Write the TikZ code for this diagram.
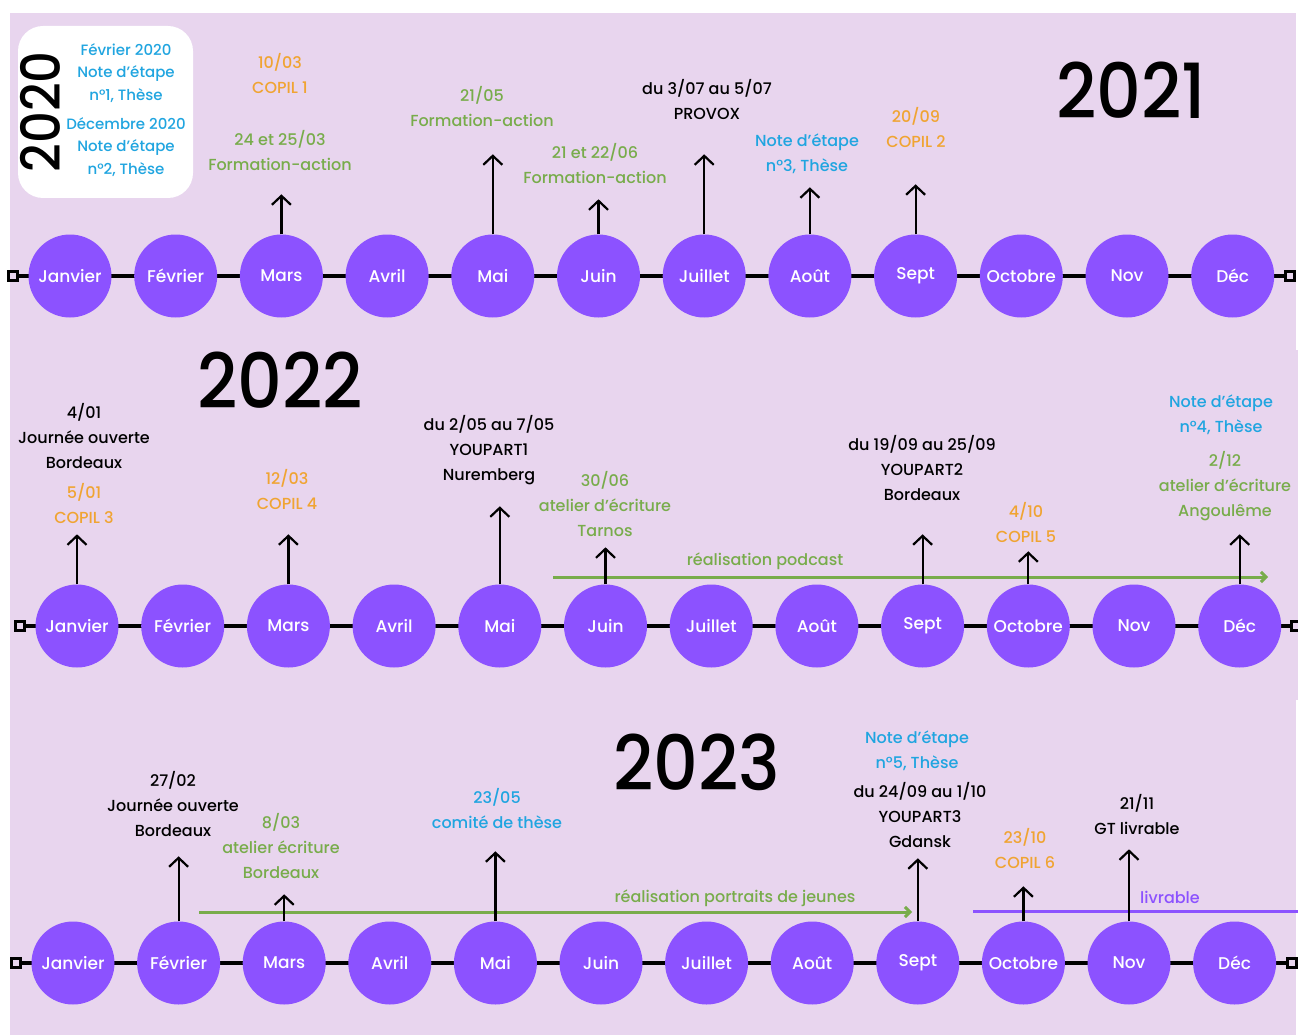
\documentclass[tikz,border=0pt]{standalone}
\usepackage{fontspec}
\setmainfont{Poppins Medium}
\usetikzlibrary{arrows.meta}
\definecolor{lav}{RGB}{232,213,238}
\definecolor{cmois}{RGB}{140,82,255}
\definecolor{cbleu}{RGB}{32,165,224}
\definecolor{corange}{RGB}{240,164,50}
\definecolor{cvert}{RGB}{120,172,75}
\tikzset{
	month/.style={circle, fill=cmois, minimum size=83pt, inner sep=0pt, text=white, font=\fontsize{17}{20}\selectfont},
	endsq/.style={draw, fill=lav, line width=2.2pt, minimum size=9pt, inner sep=0pt},
	tl/.style={line width=3.2pt},
	evt/.style={line width=2.2pt, -{Straight Barb[length=9pt,width=19pt,line width=2.2pt]}},
	span/.style={line width=3pt},
	txt/.style={align=center, font=\fontsize{16}{25}\selectfont},
	year/.style={font=\fontsize{76}{76}\selectfont}
}
\begin{document}
\begin{tikzpicture}[x=1pt, y=-1pt]
\useasboundingbox (0,0) rectangle (1298,1035);
\fill[lav] (10,13) rectangle (1296,1035);
\fill[lav] (10,350) rectangle (1298,700);

% 2020 - 2021
\node[fill=white, rounded corners=25pt, minimum width=175pt, minimum height=172pt] (box) at (105.5,112) {};
\node[rotate=90, font=\fontsize{54}{54}\selectfont] (y20) at (40,112) {\scalebox{.92}[1]{2020}};
\node[align=center, text=cbleu, font=\fontsize{15}{22.5}\selectfont] (n1) at (126,73) {Février 2020\\Note d’étape\\n°1, Thèse};
\node[align=center, text=cbleu, font=\fontsize{15}{22.5}\selectfont] (n2) at (126,147) {Décembre 2020\\Note d’étape\\n°2, Thèse};
\node[year] (y21) at (1131,90) {\scalebox{.92}[1]{2021}};
\node[endsq] (s1) at (13,276) {};
\node[endsq] (e1) at (1290,276) {};
\draw[tl] (s1) -- (e1);
\foreach \m [count=\i] in {Janvier,Février,Mars,Avril,Mai,Juin,Juillet,Août,Sept,Octobre,Nov,Déc}
	\node[month] (a\i) at ({70+105.7*(\i-1)},276) {\m};
\node[txt, text=corange] (t13a) at (280,74) {10/03\\COPIL 1};
\node[txt, text=cvert] (t13b) at (280,151) {24 et 25/03\\Formation-action};
\node[txt, text=cvert] (t15) at (482,107) {21/05\\Formation-action};
\node[txt, text=cvert] (t16) at (595,164) {21 et 22/06\\Formation-action};
\node[txt] (t17) at (707,100) {du 3/07 au 5/07\\PROVOX};
\node[txt, text=cbleu] (t18) at (807,154) {Note d’étape\\n°3, Thèse};
\node[txt, text=corange] (t19) at (916,128) {20/09\\COPIL 2};
\draw[evt] (a3.north) -- ++(0,-40);
\draw[evt] (a5.north) -- ++(0,-80);
\draw[evt] (a6.north) -- ++(0,-35);
\draw[evt] (a7.north) -- ++(0,-80);
\draw[evt] (a8.north) -- ++(0,-47);
\draw[evt] (a9.north) -- ++(0,-50);

% 2022
\node[year] (y22) at (280,380) {\scalebox{.92}[1]{2022}};
\node[endsq] (s2) at (20,626) {};
\node[endsq] (e2) at (1296,626) {};
\draw[tl] (s2) -- (e2);
\foreach \m [count=\i] in {Janvier,Février,Mars,Avril,Mai,Juin,Juillet,Août,Sept,Octobre,Nov,Déc}
	\node[month] (b\i) at ({77+105.7*(\i-1)},626) {\m};
\node[txt] (t21a) at (84,436) {4/01\\Journée ouverte\\Bordeaux};
\node[txt, text=corange] (t21b) at (84,504) {5/01\\COPIL 3};
\node[txt, text=corange] (t23) at (287,490) {12/03\\COPIL 4};
\node[txt] (t25) at (489,450) {du 2/05 au 7/05\\YOUPART1\\Nuremberg};
\node[txt, text=cvert] (t26) at (605,504) {30/06\\atelier d’écriture\\Tarnos};
\node[txt] (t29) at (922,468) {du 19/09 au 25/09\\YOUPART2\\Bordeaux};
\node[txt, text=corange] (t210) at (1026,523) {4/10\\COPIL 5};
\node[txt, text=cbleu] (t212a) at (1221,415) {Note d’étape\\n°4, Thèse};
\node[txt, text=cvert] (t212b) at (1225,486) {2/12\\atelier d’écriture\\Angoulême};
\coordinate (p0) at (553,577);
\coordinate (p1) at (1268,577);
\draw[span, cvert, -{Straight Barb[length=5pt,width=10pt]}] (p0) -- (p1);
\node[txt, text=cvert] (pod) at (765,561) {réalisation podcast};
\draw[evt] (b1.north) -- ++(0,-50);
\draw[evt] (b3.north) -- ++(0,-50);
\draw[evt] (b5.north) -- ++(0,-78);
\draw[evt] (b6.north) -- ++(0,-37);
\draw[evt] (b9.north) -- ++(0,-50);
\draw[evt] (b10.north) -- ++(0,-33);
\draw[evt] (b12.north) -- ++(0,-50);

% 2023
\node[year] (y23) at (697,762) {\scalebox{.92}[1]{2023}};
\node[endsq] (s3) at (16,963) {};
\node[endsq] (e3) at (1292,963) {};
\draw[tl] (s3) -- (e3);
\foreach \m [count=\i] in {Janvier,Février,Mars,Avril,Mai,Juin,Juillet,Août,Sept,Octobre,Nov,Déc}
	\node[month] (c\i) at ({73+105.6*(\i-1)},963) {\m};
\node[txt] (t32) at (173,804) {27/02\\Journée ouverte\\Bordeaux};
\node[txt, text=cvert] (t33) at (281,846) {8/03\\atelier écriture\\Bordeaux};
\node[txt, text=cbleu] (t35) at (497,809) {23/05\\comité de thèse};
\node[txt, text=cbleu] (t39a) at (917,751) {Note d’étape\\n°5, Thèse};
\node[txt] (t39b) at (920,815) {du 24/09 au 1/10\\YOUPART3\\Gdansk};
\node[txt, text=corange] (t310) at (1025,848) {23/10\\COPIL 6};
\node[txt] (t311) at (1137,815) {21/11\\GT livrable};
\coordinate (q0) at (199,912);
\coordinate (q1) at (912,912);
\draw[span, cvert, -{Straight Barb[length=5pt,width=10pt]}] (q0) -- (q1);
\node[txt, text=cvert] (por) at (735,898) {réalisation portraits de jeunes};
\coordinate (r0) at (973,911);
\coordinate (r1) at (1298,911);
\draw[span, cmois] (r0) -- (r1);
\node[txt, text=cmois] (liv) at (1170,897) {livrable};
\draw[evt] (c2.north) -- ++(0,-65);
\draw[evt] (c3.north) -- ++(0,-27);
\draw[evt] (c5.north) -- ++(0,-70);
\draw[evt] (c9.north) -- ++(0,-63);
\draw[evt] (c10.north) -- ++(0,-35);
\draw[evt] (c11.north) -- ++(0,-72);
\end{tikzpicture}
\end{document}
